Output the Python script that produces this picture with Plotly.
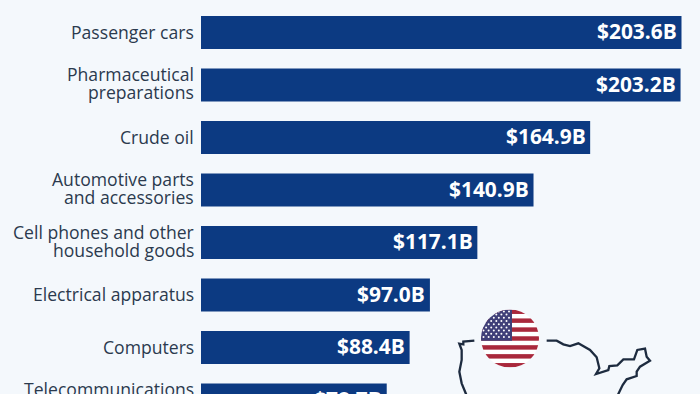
import plotly.graph_objects as go
import urllib.parse

categories = ["Passenger cars", "Pharmaceutical preparations", "Crude oil",
              "Automotive parts and accessories", "Cell phones and other household goods",
              "Electrical apparatus", "Computers", "Telecommunications equipment"]
label_lines = [["Passenger cars"], ["Pharmaceutical", "preparations"], ["Crude oil"],
               ["Automotive parts", "and accessories"], ["Cell phones and other", "household goods"],
               ["Electrical apparatus"], ["Computers"], ["Telecommunications", "equipment"]]
values = [203.6, 203.2, 164.9, 140.9, 117.1, 97.0, 88.4, 78.7]
value_text = [f"${v:.1f}B" for v in values]

W, H = 700, 420
LEFT = 201
BG = "#f4f8fc"
BAR = "#0c3a82"
INK = "#2b3a4e"
FONT = "Open Sans"

fig = go.Figure(go.Bar(
    x=values, y=categories, orientation="h", width=33 / 52.5,
    marker=dict(color=BAR, line=dict(width=0)),
    hoverinfo="skip",
))

annotations = []
for cat, lines in zip(categories, label_lines):
    n = len(lines)
    for i, line in enumerate(lines):
        annotations.append(dict(
            x=0, y=cat, xref="x", yref="y", text=line, showarrow=False,
            xanchor="right", yanchor="middle", xshift=-5.5,
            yshift=(n - 1) * 9 - i * 18 + (2 if n > 1 else 1),
            font=dict(family=FONT, size=17.6, color=INK),
        ))
for cat, v, t in zip(categories, values, value_text):
    annotations.append(dict(
        x=v, y=cat, xref="x", yref="y", text=t, showarrow=False,
        xanchor="right", yanchor="middle", xshift=-2.5, yshift=1.5,
        font=dict(family=FONT, size=20.9, color="white", weight=700),
    ))

# Decorative map outline and flag, placed in page pixels
def px(x, y):
    return (x - LEFT) / (W - LEFT), 1 - y / H

def path(points):
    parts = []
    for k, (a, b) in enumerate(points):
        X, Y = px(450 + a / 3, 300 + b / 3)
        parts.append(("M" if k == 0 else "L") + f"{X:.4f},{Y:.4f}")
    return " ".join(parts)

west = [(73, 122), (40, 125), (40, 133), (28, 131), (35, 150), (35, 180), (28, 215), (35, 250), (48, 282), (54, 300)]
east = [(290, 122), (320, 122), (340, 133), (360, 138), (385, 130), (420, 150), (440, 172), (448, 205),
        (438, 222), (475, 210), (478, 198), (502, 196), (520, 178), (552, 178), (562, 150), (585, 146),
        (590, 170), (600, 182), (570, 200), (560, 215), (560, 228), (530, 238), (518, 255), (505, 282), (496, 300)]
shapes = [dict(type="path", xref="paper", yref="paper", path=path(p),
               line=dict(color="#1d2b3f", width=2.3), layer="above") for p in (west, east)]

# flag as SVG
cx, cy, r = 510, 338.5, 29
sh = 2 * r / 13
svg = ['<svg xmlns="http://www.w3.org/2000/svg" width="116" height="116" viewBox="0 0 58 58">'
       '<defs><clipPath id="c"><circle cx="29" cy="29" r="29"/></clipPath></defs><g clip-path="url(#c)">'
       '<rect width="58" height="58" fill="white"/>']
for s in range(0, 13, 2):
    svg.append(f'<rect y="{s * sh:.2f}" width="58" height="{sh:.2f}" fill="#a9283c"/>')
svg.append(f'<rect width="31" height="{7 * sh:.2f}" fill="#3f3f78"/>')
for row in range(9):
    for col in range(6 if row % 2 == 0 else 5):
        svg.append(f'<circle cx="{(col + (0.5 if row % 2 == 0 else 1)) * 5.1:.1f}" cy="{1.9 + row * 3.2:.1f}" r="1" fill="white"/>')
svg.append("</g></svg>")
uri = "data:image/svg+xml;utf8," + urllib.parse.quote("".join(svg))
X0, Y0 = px(cx - r, cy - r)
images = [dict(source=uri, xref="paper", yref="paper", x=X0, y=Y0, sizex=2 * r / (W - LEFT), sizey=2 * r / H,
               xanchor="left", yanchor="top", sizing="stretch", layer="above")]

fig.update_layout(
    width=W, height=H, autosize=False, margin=dict(l=LEFT, r=0, t=0, b=0, pad=0),
    paper_bgcolor=BG, plot_bgcolor=BG, showlegend=False,
    xaxis=dict(range=[0, 499 / 2.36], visible=False),
    yaxis=dict(type="category", categoryorder="array", categoryarray=categories,
               range=[(H - 32.5) / 52.5, -32.5 / 52.5], visible=False),
    annotations=annotations, shapes=shapes, images=images,
)
fig.write_html("out.html", config=dict(displayModeBar=False),
               post_script="document.documentElement.style.overflow='hidden';document.body.style.overflow='hidden';document.body.style.margin='0';document.body.style.background='" + BG + "';")
